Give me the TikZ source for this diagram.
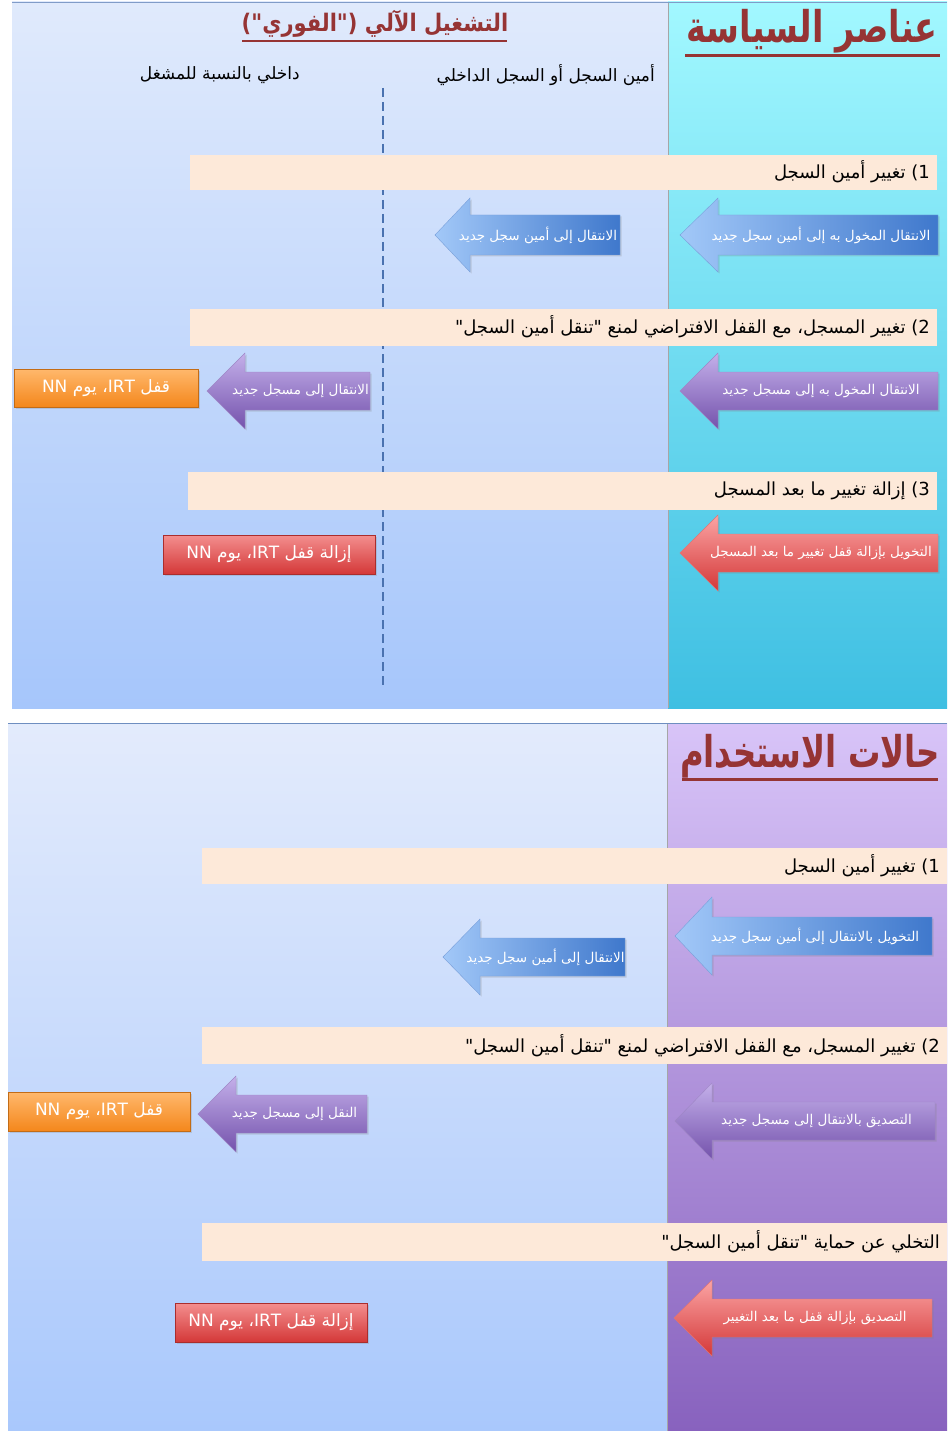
\documentclass[tikz,border=0pt]{standalone}
\usepackage{fontspec}
\setmainfont{DejaVu Sans}
\newfontfamily\ar[Script=Arabic]{DejaVu Sans}
\TeXXeTstate=1
\usetikzlibrary{shadows}
\definecolor{tlTop}{HTML}{E0EAFC}
\definecolor{tlBot}{HTML}{A6C6FB}
\definecolor{trTop}{HTML}{A2F8FF}
\definecolor{trBot}{HTML}{3EBFE2}
\definecolor{blTop}{HTML}{E3EBFC}
\definecolor{blBot}{HTML}{A9C8FC}
\definecolor{brTop}{HTML}{D8C4F8}
\definecolor{brBot}{HTML}{8862BE}
\definecolor{bandc}{HTML}{FDE9D9}
\definecolor{titlered}{HTML}{963434}
\definecolor{dashc}{HTML}{4A72B0}
\definecolor{blueL}{HTML}{A2C8F8}
\definecolor{blueD}{HTML}{3F78CC}
\definecolor{purL}{HTML}{C4B0EA}
\definecolor{purD}{HTML}{7452AC}
\definecolor{redL}{HTML}{FBA4A4}
\definecolor{redD}{HTML}{D43838}
\definecolor{orL}{HTML}{FFB86C}
\definecolor{orD}{HTML}{F4871C}
\tikzset{
  arrtext/.style={text=white, font=\fontsize{13.5}{15}\selectfont, inner sep=0pt},
  bluearr/.style={left color=blueL, right color=blueD, draw=blueD!70, line width=0.4pt, drop shadow={opacity=0.25, shadow xshift=1.5pt, shadow yshift=-1.5pt}},
  purarr/.style={top color=purL, bottom color=purD, draw=purD!70, line width=0.4pt, drop shadow={opacity=0.25, shadow xshift=1.5pt, shadow yshift=-1.5pt}},
  redarr/.style={top color=redL, bottom color=redD, draw=redD!70, line width=0.4pt, drop shadow={opacity=0.25, shadow xshift=1.5pt, shadow yshift=-1.5pt}},
  orbox/.style={top color=orL, bottom color=orD, draw=orD!80!black, line width=0.4pt, drop shadow={opacity=0.25, shadow xshift=1.5pt, shadow yshift=-1.5pt}},
  redbox/.style={top color=redL!80!redD, bottom color=redD, draw=redD!80!black, line width=0.4pt, drop shadow={opacity=0.25, shadow xshift=1.5pt, shadow yshift=-1.5pt}},
  boxtext/.style={text=white, font=\fontsize{17}{20}\selectfont, inner sep=0pt},
  bandtext/.style={text=black, font=\fontsize{18}{21}\selectfont, inner sep=0pt, anchor=east},
  headtext/.style={text=black, font=\fontsize{17}{20}\selectfont, inner sep=0pt, anchor=east},
  bigtitle/.style={text=titlered, font=\fontsize{38}{44}\bfseries\selectfont, inner sep=0pt},
  smalltitle/.style={text=titlered, font=\fontsize{21}{25}\bfseries\selectfont, inner sep=0pt},
}
% #1 name, #2 tip x, #3 head base x, #4 end x, #5 center y, #6 half body, #7 half head, #8 style, #9 text
\newcommand\lharrow[9]{%
  \path[#8] (#2,#5) -- (#3,#5-#7) -- (#3,#5-#6) -- (#4,#5-#6) -- (#4,#5+#6) -- (#3,#5+#6) -- (#3,#5+#7) -- cycle;
  \node[arrtext] (#1) at ({(#3+#4)/2-7},#5) {\ar #9};
}
\begin{document}
\begin{tikzpicture}[x=1pt,y=-1pt]
\useasboundingbox (0,0) rectangle (947,1431);
\fill[white] (0,0) rectangle (947,1431);
% ---------- top panel ----------
\shade[top color=tlTop, bottom color=tlBot] (12,2) rectangle (668,708);
\shade[top color=trTop, bottom color=trBot] (668,2) rectangle (947,708);
\draw[gray!70, line width=0.8pt] (668,2) -- (668,708);
\draw[dashc!70, line width=0.8pt] (12,2) -- (947,2);
% titles
\node[bigtitle] (t1) at (812,31) {\scalebox{0.88}[1.15]{\ar\beginR عناصر السياسة\endR}};
\draw[titlered, line width=3pt] (685,56) -- (940,56);
\node[smalltitle] (t2) at (375,24) {\scalebox{1}[1.15]{\ar\beginR التشغيل الآلي ("الفوري")\endR}};
\draw[titlered, line width=1.6pt] (242,41) -- (507,41);
\node[headtext] (h1) at (655,75) {\ar\beginR أمين السجل أو السجل الداخلي\endR};
\node[headtext] (h2) at (300,75) {\ar\beginR داخلي بالنسبة للمشغل\endR};
\draw[dashc, line width=1.6pt, dash pattern=on 9pt off 5pt] (383,88) -- (383,688);
% bands
\fill[bandc] (190,155) rectangle (937,190);
\node[bandtext] (b1) at (930,172) {\ar\beginR تغيير أمين السجل\endR\ 1)};
\fill[bandc] (190,309) rectangle (937,346);
\node[bandtext] (b2) at (930,327) {\ar\beginR تغيير المسجل، مع القفل الافتراضي لمنع "تنقل أمين السجل"\endR\ 2)};
\fill[bandc] (188,472) rectangle (937,510);
\node[bandtext] (b3) at (930,491) {\ar\beginR إزالة تغيير ما بعد المسجل\endR\ 3)};
% arrows row 1
\lharrow{a1r}{680}{718}{938}{235}{20}{37}{bluearr}{\beginR الانتقال المخول به إلى أمين سجل جديد\endR}
\lharrow{a1l}{435}{470}{620}{235}{20}{37}{bluearr}{\beginR الانتقال إلى أمين سجل جديد\endR}
% row 2
\lharrow{a2r}{680}{718}{938}{391}{19}{38}{purarr}{\beginR الانتقال المخول به إلى مسجل جديد\endR}
\lharrow{a2l}{207}{245}{370}{391}{19}{38}{purarr}{\beginR الانتقال إلى مسجل جديد\endR}
\path[orbox] (14,369) rectangle (198,407);
\node[boxtext] (o1) at (106,388) {\ar\beginR قفل \beginL IRT\endL، يوم \beginL NN\endL\endR};
% row 3
\lharrow{a3r}{680}{718}{938}{553}{19}{38}{redarr}{\beginR التخويل بإزالة قفل تغيير ما بعد المسجل\endR}
\path[redbox] (163,535) rectangle (375,574);
\node[boxtext] (r1) at (269,554) {\ar\beginR إزالة قفل \beginL IRT\endL، يوم \beginL NN\endL\endR};
% ---------- bottom panel ----------
\shade[top color=blTop, bottom color=blBot] (8,723) rectangle (667,1431);
\shade[top color=brTop, bottom color=brBot] (667,723) rectangle (947,1431);
\draw[gray!70, line width=0.8pt] (667,723) -- (667,1431);
\draw[dashc!80, line width=1pt] (8,723) -- (947,723);
\node[bigtitle] (t3) at (810,756) {\scalebox{0.85}[1.15]{\ar\beginR حالات الاستخدام\endR}};
\draw[titlered, line width=3pt] (682,779) -- (938,779);
% bands
\fill[bandc] (202,848) rectangle (947,884);
\node[bandtext] (c1) at (940,866) {\ar\beginR تغيير أمين السجل\endR\ 1)};
\fill[bandc] (202,1027) rectangle (947,1064);
\node[bandtext] (c2) at (940,1046) {\ar\beginR تغيير المسجل، مع القفل الافتراضي لمنع "تنقل أمين السجل"\endR\ 2)};
\fill[bandc] (202,1223) rectangle (947,1261);
\node[bandtext] (c3) at (940,1242) {\ar\beginR التخلي عن حماية "تنقل أمين السجل"\endR};
% arrows
\lharrow{d1r}{675}{712}{932}{936}{19}{39}{bluearr}{\beginR التخويل بالانتقال إلى أمين سجل جديد\endR}
\lharrow{d1l}{443}{480}{625}{957}{19}{38}{bluearr}{\beginR الانتقال إلى أمين سجل جديد\endR}
\lharrow{d2l}{198}{236}{367}{1114}{19}{38}{purarr}{\beginR النقل إلى مسجل جديد\endR}
\lharrow{d2r}{675}{712}{935}{1121}{19}{38}{purarr}{\beginR التصديق بالانتقال إلى مسجل جديد\endR}
\path[orbox] (8,1092) rectangle (190,1131);
\node[boxtext] (o2) at (99,1111) {\ar\beginR قفل \beginL IRT\endL، يوم \beginL NN\endL\endR};
\lharrow{d3r}{674}{712}{932}{1318}{19}{38}{redarr}{\beginR التصديق بإزالة قفل ما بعد التغيير\endR}
\path[redbox] (175,1303) rectangle (367,1342);
\node[boxtext] (r2) at (271,1322) {\ar\beginR إزالة قفل \beginL IRT\endL، يوم \beginL NN\endL\endR};
\end{tikzpicture}
\end{document}
